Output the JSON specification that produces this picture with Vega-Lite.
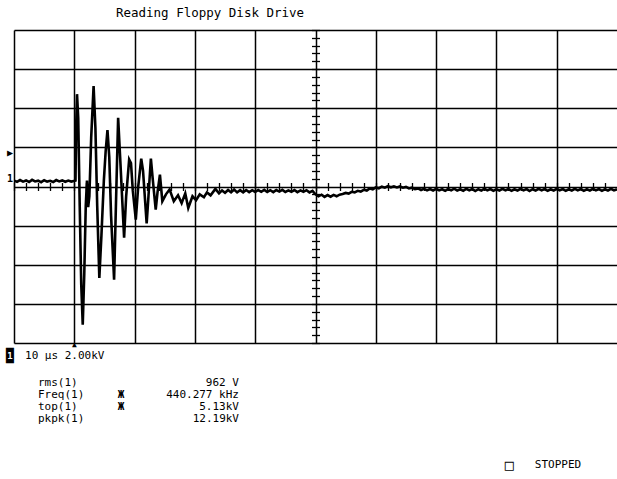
{
  "$schema": "https://vega.github.io/schema/vega-lite/v6.json",
  "padding": {"left": 5, "top": 6, "right": 0, "bottom": 0},
  "background": "white",
  "title": {"text": "Reading Floppy Disk Drive", "anchor": "start", "dx": 110, "font": "DejaVu Sans Mono", "fontSize": 12.5, "fontWeight": "normal", "color": "black", "offset": 10},
  "config": {"view": {"stroke": null}, "font": "DejaVu Sans Mono", "text": {"color": "black", "font": "DejaVu Sans Mono"}},
  "bounds": "flush",
  "spacing": 0,
  "datasets": {
    "trace": [
      {"t": -10, "v": 0.30}, {"t": -9.5, "v": 0.24}, {"t": -9, "v": 0.33}, {"t": -8.5, "v": 0.25}, {"t": -8, "v": 0.31}, {"t": -7.5, "v": 0.23}, {"t": -7, "v": 0.34}, {"t": -6.5, "v": 0.26}, {"t": -6, "v": 0.30}, {"t": -5.5, "v": 0.22}, {"t": -5, "v": 0.32}, {"t": -4.5, "v": 0.25}, {"t": -4, "v": 0.29}, {"t": -3.5, "v": 0.23}, {"t": -3, "v": 0.33}, {"t": -2.5, "v": 0.26}, {"t": -2, "v": 0.31}, {"t": -1.5, "v": 0.24}, {"t": -1, "v": 0.30}, {"t": -0.5, "v": 0.25}, {"t": 0.1, "v": 0.29},
      {"t": 0.2, "v": 0.30}, {"t": 0.3, "v": 3.0}, {"t": 0.45, "v": 4.72}, {"t": 0.65, "v": 3.5}, {"t": 0.9, "v": -1.0}, {"t": 1.15, "v": -5.0}, {"t": 1.4, "v": -7.06}, {"t": 1.65, "v": -4.5}, {"t": 1.9, "v": -1.0}, {"t": 2.1, "v": 0.3}, {"t": 2.3, "v": -1.05}, {"t": 2.5, "v": -0.5}, {"t": 2.8, "v": 2.5}, {"t": 3.2, "v": 5.13}, {"t": 3.5, "v": 3.0}, {"t": 3.8, "v": -1.0}, {"t": 4.15, "v": -4.67}, {"t": 4.5, "v": -2.5}, {"t": 4.9, "v": 0.3}, {"t": 5.2, "v": 1.8}, {"t": 5.5, "v": 2.88}, {"t": 5.8, "v": 1.5}, {"t": 6.1, "v": -1.5}, {"t": 6.6, "v": -4.76}, {"t": 6.9, "v": -1.0}, {"t": 7.27, "v": 3.51}, {"t": 7.6, "v": 1.5}, {"t": 8.0, "v": -1.0}, {"t": 8.26, "v": -2.62}, {"t": 8.6, "v": -0.5}, {"t": 9.1, "v": 1.38}, {"t": 9.4, "v": 1.2}, {"t": 9.7, "v": -0.2}, {"t": 10.2, "v": -1.69}, {"t": 10.6, "v": 0.0}, {"t": 11.1, "v": 1.42}, {"t": 11.4, "v": 0.8}, {"t": 12.0, "v": -1.89}, {"t": 12.3, "v": -0.5}, {"t": 12.7, "v": 1.43}, {"t": 13.0, "v": 0.4}, {"t": 13.5, "v": -1.18}, {"t": 13.8, "v": -0.3}, {"t": 14.2, "v": 0.61}, {"t": 14.6, "v": -0.75}, {"t": 15.2, "v": -0.4}, {"t": 15.8, "v": -0.15}, {"t": 16.5, "v": -0.75}, {"t": 17.2, "v": -0.45}, {"t": 17.8, "v": -0.85}, {"t": 18.4, "v": -0.35}, {"t": 18.9, "v": -1.1}, {"t": 19.6, "v": -0.5}, {"t": 20.2, "v": -0.7}, {"t": 20.8, "v": -0.4}, {"t": 21.5, "v": -0.55}, {"t": 22.0, "v": -0.3}, {"t": 22.6, "v": -0.45}, {"t": 23.4, "v": -0.12}, {"t": 24.0, "v": -0.35}, {"t": 24.5, "v": -0.2}, {"t": 25.0, "v": -0.32}, {"t": 25.5, "v": -0.18}, {"t": 26.0, "v": -0.3}, {"t": 26.5, "v": -0.16}, {"t": 27.0, "v": -0.3}, {"t": 27.5, "v": -0.19}, {"t": 28.0, "v": -0.3}, {"t": 28.5, "v": -0.18}, {"t": 29.0, "v": -0.29}, {"t": 29.5, "v": -0.19},
      {"t": 30, "v": -0.28}, {"t": 30.5, "v": -0.18}, {"t": 31, "v": -0.27}, {"t": 31.5, "v": -0.17}, {"t": 32, "v": -0.28}, {"t": 32.5, "v": -0.19}, {"t": 33, "v": -0.29}, {"t": 33.5, "v": -0.18}, {"t": 34, "v": -0.26}, {"t": 34.5, "v": -0.17}, {"t": 35, "v": -0.28}, {"t": 35.5, "v": -0.2}, {"t": 36, "v": -0.27}, {"t": 36.5, "v": -0.18}, {"t": 37, "v": -0.29}, {"t": 37.5, "v": -0.2}, {"t": 38, "v": -0.27}, {"t": 38.5, "v": -0.19}, {"t": 39, "v": -0.3}, {"t": 39.5, "v": -0.22}, {"t": 40, "v": -0.4}, {"t": 40.5, "v": -0.5}, {"t": 41, "v": -0.42}, {"t": 41.5, "v": -0.53}, {"t": 42, "v": -0.44}, {"t": 42.5, "v": -0.52}, {"t": 43, "v": -0.43}, {"t": 43.5, "v": -0.5}, {"t": 44, "v": -0.42}, {"t": 44.5, "v": -0.38}, {"t": 45, "v": -0.33}, {"t": 45.5, "v": -0.36}, {"t": 46, "v": -0.27}, {"t": 46.5, "v": -0.3}, {"t": 47, "v": -0.22}, {"t": 47.5, "v": -0.26}, {"t": 48, "v": -0.17}, {"t": 48.5, "v": -0.21}, {"t": 49, "v": -0.1}, {"t": 49.5, "v": -0.14}, {"t": 50, "v": -0.05}, {"t": 50.5, "v": -0.09}, {"t": 51, "v": -0.01}, {"t": 51.5, "v": -0.06}, {"t": 52, "v": 0.02}, {"t": 52.5, "v": -0.04}, {"t": 53, "v": 0.01}, {"t": 53.5, "v": -0.05}, {"t": 54, "v": 0.0}, {"t": 54.5, "v": -0.06}, {"t": 55, "v": -0.02}, {"t": 55.5, "v": -0.1}, {"t": 56, "v": -0.06}, {"t": 56.5, "v": -0.14}, {"t": 57, "v": -0.1}, {"t": 57.5, "v": -0.18}, {"t": 58, "v": -0.12}, {"t": 58.5, "v": -0.2},
      {"t": 59, "v": -0.13}, {"t": 59.5, "v": -0.21}, {"t": 60, "v": -0.12}, {"t": 60.5, "v": -0.2}, {"t": 61, "v": -0.14}, {"t": 61.5, "v": -0.22}, {"t": 62, "v": -0.13}, {"t": 62.5, "v": -0.2}, {"t": 63, "v": -0.11}, {"t": 63.5, "v": -0.21}, {"t": 64, "v": -0.14}, {"t": 64.5, "v": -0.22}, {"t": 65, "v": -0.12}, {"t": 65.5, "v": -0.2}, {"t": 66, "v": -0.13}, {"t": 66.5, "v": -0.23}, {"t": 67, "v": -0.14}, {"t": 67.5, "v": -0.21}, {"t": 68, "v": -0.12}, {"t": 68.5, "v": -0.2}, {"t": 69, "v": -0.13}, {"t": 69.5, "v": -0.22}, {"t": 70, "v": -0.14}, {"t": 70.5, "v": -0.21}, {"t": 71, "v": -0.12}, {"t": 71.5, "v": -0.2}, {"t": 72, "v": -0.13}, {"t": 72.5, "v": -0.22}, {"t": 73, "v": -0.14}, {"t": 73.5, "v": -0.21}, {"t": 74, "v": -0.12}, {"t": 74.5, "v": -0.2}, {"t": 75, "v": -0.13}, {"t": 75.5, "v": -0.23}, {"t": 76, "v": -0.14}, {"t": 76.5, "v": -0.21}, {"t": 77, "v": -0.12}, {"t": 77.5, "v": -0.2}, {"t": 78, "v": -0.13}, {"t": 78.5, "v": -0.22}, {"t": 79, "v": -0.14}, {"t": 79.5, "v": -0.21}, {"t": 80, "v": -0.12}, {"t": 80.5, "v": -0.2}, {"t": 81, "v": -0.13}, {"t": 81.5, "v": -0.22}, {"t": 82, "v": -0.14}, {"t": 82.5, "v": -0.21}, {"t": 83, "v": -0.12}, {"t": 83.5, "v": -0.2}, {"t": 84, "v": -0.13}, {"t": 84.5, "v": -0.22}, {"t": 85, "v": -0.14}, {"t": 85.5, "v": -0.21}, {"t": 86, "v": -0.12}, {"t": 86.5, "v": -0.2}, {"t": 87, "v": -0.13}, {"t": 87.5, "v": -0.22}, {"t": 88, "v": -0.14}, {"t": 88.5, "v": -0.21}, {"t": 89, "v": -0.12}, {"t": 89.5, "v": -0.2}, {"t": 90, "v": -0.14}
    ],
    "readout": [
      {"kind": "left", "col": 1.46, "line": 1.15, "text": "10 µs 2.00kV"},
      {"kind": "left", "col": 3.18, "line": 3.5, "text": "rms(1)"},
      {"kind": "left", "col": 3.18, "line": 4.55, "text": "Freq(1)"},
      {"kind": "left", "col": 3.18, "line": 5.6, "text": "top(1)"},
      {"kind": "left", "col": 3.18, "line": 6.6, "text": "pkpk(1)"},
      {"kind": "center", "col": 14.2, "line": 4.55, "text": "Ж"},
      {"kind": "center", "col": 14.2, "line": 5.6, "text": "Ж"},
      {"kind": "right", "col": 29.85, "line": 3.5, "text": "962 V"},
      {"kind": "right", "col": 29.85, "line": 4.55, "text": "440.277 kHz"},
      {"kind": "right", "col": 29.85, "line": 5.6, "text": "5.13kV"},
      {"kind": "right", "col": 29.85, "line": 6.6, "text": "12.19kV"},
      {"kind": "box", "col": 65.7, "line": 10.65, "text": "□"},
      {"kind": "left", "col": 69.1, "line": 10.65, "text": "STOPPED"},
      {"kind": "icon", "col": -0.55, "line": 1.15, "text": "█"},
      {"kind": "iconlabel", "col": -0.55, "line": 1.15, "text": "1"}
    ]
  },
  "vconcat": [
    {
      "width": 603,
      "height": 313,
      "resolve": {"axis": {"x": "independent", "y": "independent"}},
      "layer": [
        {
          "data": {"name": "trace"},
          "mark": {"type": "line", "color": "black", "strokeWidth": 2.6, "clip": true, "interpolate": "linear"},
          "encoding": {
            "x": {"field": "t", "type": "quantitative", "scale": {"domain": [-10, 90], "nice": false, "zero": false},
                  "axis": {"orient": "bottom", "title": null, "labels": false, "ticks": false, "domain": false, "grid": true, "gridColor": "black", "gridOpacity": 1, "gridWidth": 1.5, "values": [-10, 0, 10, 20, 30, 40, 50, 60, 70, 80]}},
            "y": {"field": "v", "type": "quantitative", "scale": {"domain": [-8, 8], "nice": false, "zero": false},
                  "axis": {"orient": "left", "title": null, "labels": false, "ticks": false, "domain": false, "grid": true, "gridColor": "black", "gridOpacity": 1, "gridWidth": 1.5, "values": [-8, -6, -4, -2, 0, 2, 4, 6, 8]}}
          }
        },
        {
          "data": {"values": [{"t": 0, "v": -8, "s": "▲"}]},
          "mark": {"type": "text", "baseline": "top", "fontSize": 8, "dy": -2, "color": "black"},
          "encoding": {
            "x": {"field": "t", "type": "quantitative",
                  "axis": {"orient": "bottom", "offset": -156.5, "title": null, "labels": false, "domain": false, "grid": false, "ticks": true, "tickSize": 4, "tickColor": "black", "tickWidth": 1.3,
                           "values": [-10, -8, -6, -4, -2, 0, 2, 4, 6, 8, 10, 12, 14, 16, 18, 20, 22, 24, 26, 28, 30, 32, 34, 36, 38, 40, 42, 44, 46, 48, 50, 52, 54, 56, 58, 60, 62, 64, 66, 68, 70, 72, 74, 76, 78, 80, 82, 84, 86, 88]}},
            "y": {"field": "v", "type": "quantitative",
                  "axis": {"orient": "left", "offset": -301.5, "title": null, "labels": false, "domain": false, "grid": false, "ticks": true, "tickSize": 4, "tickColor": "black", "tickWidth": 1.3,
                           "values": [-8, -7.6, -7.2, -6.8, -6.4, -6, -5.6, -5.2, -4.8, -4.4, -4, -3.6, -3.2, -2.8, -2.4, -2, -1.6, -1.2, -0.8, -0.4, 0, 0.4, 0.8, 1.2, 1.6, 2, 2.4, 2.8, 3.2, 3.6, 4, 4.4, 4.8, 5.2, 5.6, 6, 6.4, 6.8, 7.2, 7.6, 8]}},
            "text": {"field": "s"}
          }
        },
        {
          "data": {"values": [{"t": -10, "v": 1.69, "s": "▶"}, {"t": -10, "v": 0.4, "s": "1"}]},
          "mark": {"type": "text", "align": "right", "baseline": "middle", "fontSize": 10, "fontWeight": "bold", "dx": -1, "color": "black"},
          "encoding": {
            "x": {"field": "t", "type": "quantitative",
                  "axis": {"orient": "top", "offset": -156.5, "title": null, "labels": false, "domain": false, "grid": false, "ticks": true, "tickSize": 4, "tickColor": "black", "tickWidth": 1.3,
                           "values": [-10, -8, -6, -4, -2, 0, 2, 4, 6, 8, 10, 12, 14, 16, 18, 20, 22, 24, 26, 28, 30, 32, 34, 36, 38, 40, 42, 44, 46, 48, 50, 52, 54, 56, 58, 60, 62, 64, 66, 68, 70, 72, 74, 76, 78, 80, 82, 84, 86, 88]}},
            "y": {"field": "v", "type": "quantitative",
                  "axis": {"orient": "right", "offset": -301.5, "title": null, "labels": false, "domain": false, "grid": false, "ticks": true, "tickSize": 4, "tickColor": "black", "tickWidth": 1.3,
                           "values": [-8, -7.6, -7.2, -6.8, -6.4, -6, -5.6, -5.2, -4.8, -4.4, -4, -3.6, -3.2, -2.8, -2.4, -2, -1.6, -1.2, -0.8, -0.4, 0, 0.4, 0.8, 1.2, 1.6, 2, 2.4, 2.8, 3.2, 3.6, 4, 4.4, 4.8, 5.2, 5.6, 6, 6.4, 6.8, 7.2, 7.6, 8]}},
            "text": {"field": "s"}
          }
        }
      ]
    },
    {
      "width": 603,
      "height": 136,
      "data": {"name": "readout"},
      "encoding": {
        "x": {"field": "col", "type": "quantitative", "scale": {"domain": [0, 80], "nice": false, "zero": false}, "axis": null},
        "y": {"field": "line", "type": "quantitative", "scale": {"domain": [0, 11.83], "nice": false, "zero": false, "reverse": true}, "axis": null},
        "text": {"field": "text"}
      },
      "layer": [
        {"transform": [{"filter": "datum.kind === 'icon'"}], "mark": {"type": "text", "align": "center", "baseline": "middle", "fontSize": 13, "color": "black"}},
        {"transform": [{"filter": "datum.kind === 'iconlabel'"}], "mark": {"type": "text", "align": "center", "baseline": "middle", "fontSize": 9, "fontWeight": "bold", "color": "white"}},
        {"transform": [{"filter": "datum.kind === 'left'"}], "mark": {"type": "text", "align": "left", "baseline": "middle", "fontSize": 11, "color": "black"}},
        {"transform": [{"filter": "datum.kind === 'center'"}], "mark": {"type": "text", "align": "center", "baseline": "middle", "fontSize": 11, "fontWeight": "bold", "color": "black"}},
        {"transform": [{"filter": "datum.kind === 'box'"}], "mark": {"type": "text", "align": "center", "baseline": "middle", "fontSize": 15, "fontWeight": "bold", "color": "black"}},
        {"transform": [{"filter": "datum.kind === 'right'"}], "mark": {"type": "text", "align": "right", "baseline": "middle", "fontSize": 11, "color": "black"}}
      ]
    }
  ]
}
